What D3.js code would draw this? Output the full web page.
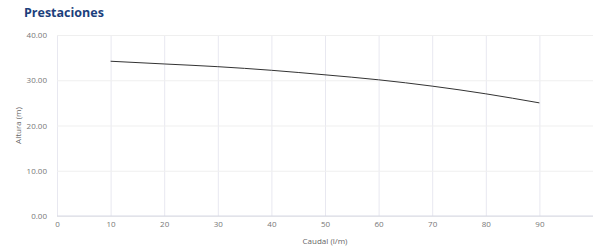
<!DOCTYPE html>
<html>
<head>
<meta charset="utf-8">
<script src="https://cdn.jsdelivr.net/npm/d3@7"></script>
<style>
  body { margin: 0; background: #fff; }
  #chart { width: 600px; height: 247px; }
</style>
</head>
<body>
<div id="chart"></div>
<script>
const caudal = [10, 20, 30, 40, 50, 60, 70, 80, 90];
const altura = [34.2, 33.6, 33.0, 32.2, 31.2, 30.1, 28.7, 27.0, 25.0];
const xTicks = [0, 10, 20, 30, 40, 50, 60, 70, 80, 90];
const yTicks = [0, 10, 20, 30, 40];

const font = '"Open Sans", sans-serif';
const margin = { top: 35, right: 7, bottom: 31, left: 57 };
const width = 600 - margin.left - margin.right;
const height = 247 - margin.top - margin.bottom;

const root = d3.select('#chart')
  .append('svg')
  .attr('width', 600)
  .attr('height', 247);

root.append('text')
  .attr('x', 24)
  .attr('y', 17)
  .text('Prestaciones')
  .style('font-family', font)
  .style('font-size', '12.5px')
  .style('font-weight', 700)
  .attr('fill', '#1c3f7c');

const svg = root.append('g')
  .attr('transform', `translate(${margin.left},${margin.top})`);

const x = d3.scaleLinear().domain([0, 100]).range([0, width]);
const y = d3.scaleLinear().domain([0, 40]).range([height, 0]);

// grid + axes
svg.append('g')
  .attr('transform', `translate(0,${height})`)
  .call(d3.axisBottom(x).tickValues(xTicks).tickSize(-height).tickSizeOuter(0).tickFormat(d3.format('d')))
  .call(g => g.select('.domain').remove())
  .call(g => g.selectAll('.tick line').attr('stroke', '#e8e8f0'))
  .call(g => g.selectAll('.tick text').attr('fill', '#777').attr('dy', '0.95em')
    .style('font-family', font).style('font-size', '8px'));

svg.append('g')
  .call(d3.axisLeft(y).tickValues(yTicks).tickSize(-width).tickSizeOuter(0).tickFormat(d3.format('.2f')))
  .call(g => g.select('.domain').remove())
  .call(g => g.selectAll('.tick line').attr('stroke', '#efefef'))
  .call(g => g.selectAll('.tick text').attr('fill', '#777').attr('x', -10)
    .style('font-family', font).style('font-size', '8px'));

svg.append('line')
  .attr('x1', 0).attr('x2', width)
  .attr('y1', y(0)).attr('y2', y(0))
  .attr('stroke', '#d6d8e4');

// axis labels
svg.append('text')
  .attr('text-anchor', 'middle')
  .attr('x', x(50))
  .attr('y', height + 28)
  .text('Caudal (l/m)')
  .style('font-family', font)
  .style('font-size', '8px')
  .attr('fill', '#666');

svg.append('text')
  .attr('text-anchor', 'middle')
  .attr('transform', 'rotate(-90)')
  .attr('x', -height / 2)
  .attr('y', -36)
  .text('Altura (m)')
  .style('font-family', font)
  .style('font-size', '8px')
  .attr('fill', '#666');

const line = d3.line()
  .x((d, i) => x(caudal[i]))
  .y(d => y(d))
  .curve(d3.curveMonotoneX);

svg.append('path')
  .datum(altura)
  .attr('fill', 'none')
  .attr('stroke', '#333')
  .attr('stroke-width', 1)
  .attr('d', line);
</script>
</body>
</html>
